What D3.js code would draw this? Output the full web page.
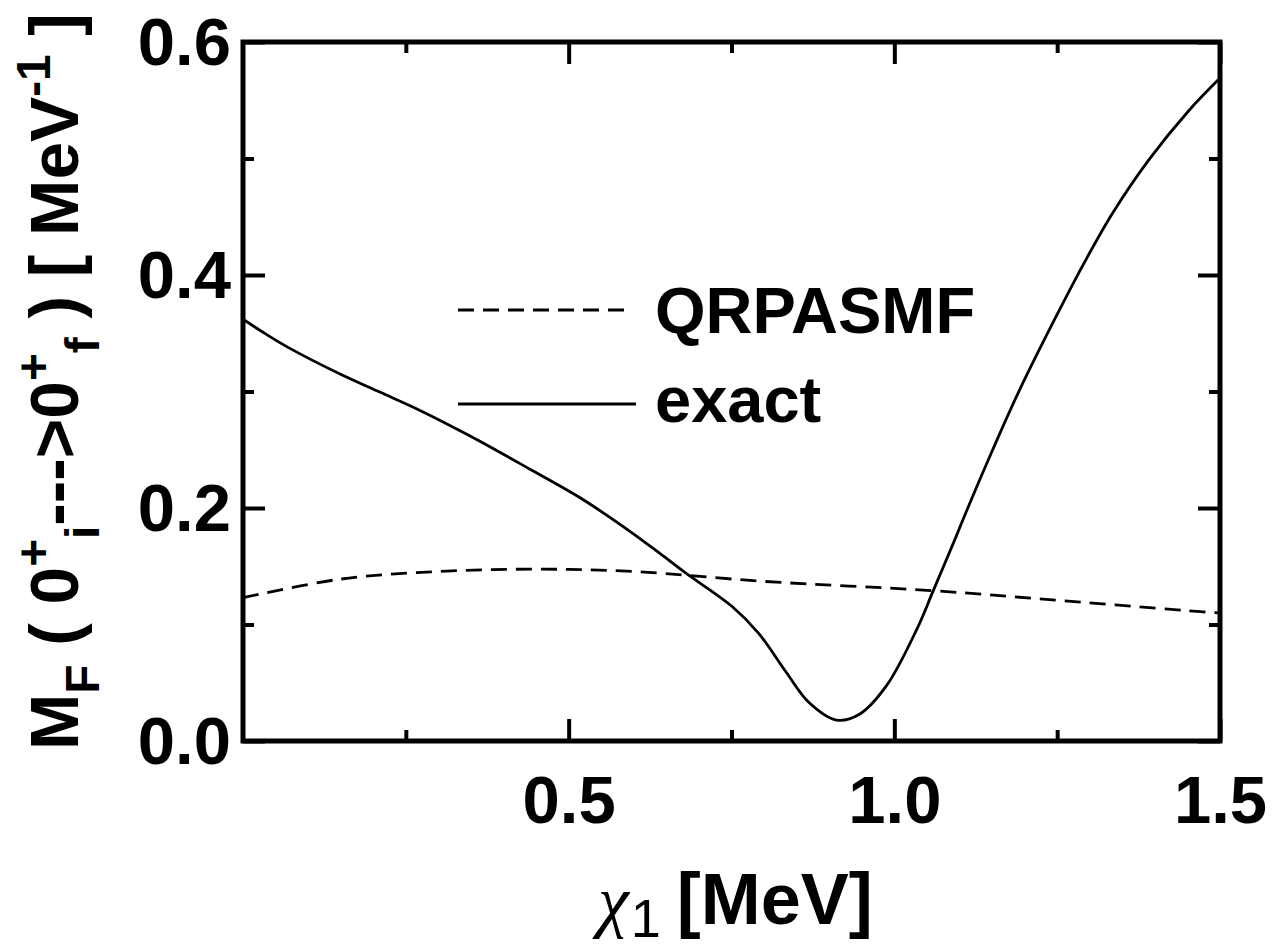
<!DOCTYPE html>
<html><head><meta charset="utf-8">
<script src="https://cdn.jsdelivr.net/npm/d3@7"></script>
<style>
html,body{margin:0;padding:0;background:#fff;}
svg{display:block;}
text{font-family:"Liberation Sans",Arial,sans-serif;}
</style></head>
<body>
<svg id="chart" width="1272" height="952"></svg>
<script>
// ---- data ----
const exactX = [0.0, 0.036, 0.072, 0.149, 0.21, 0.271, 0.348, 0.44, 0.517, 0.594, 0.64, 0.68, 0.751, 0.792, 0.834, 0.869, 0.911, 0.9465, 0.988, 1.035, 1.059, 1.0945, 1.112, 1.151, 1.192, 1.248, 1.294, 1.335, 1.391, 1.452, 1.5];
const exactY = [0.362, 0.349, 0.337, 0.315, 0.2995, 0.284, 0.262, 0.2335, 0.209, 0.180, 0.161, 0.144, 0.1154, 0.0922, 0.059, 0.033, 0.018, 0.023, 0.0475, 0.0965, 0.128, 0.175, 0.199, 0.250, 0.301, 0.364, 0.413, 0.453, 0.499, 0.541, 0.569];
const qrpaX = [0.0, 0.15, 0.3, 0.45, 0.6, 0.8, 1.06, 1.26, 1.47, 1.5];
const qrpaY = [0.123, 0.139, 0.1455, 0.1475, 0.1455, 0.137, 0.129, 0.1203, 0.111, 0.110];
const xMajor = [0.5, 1.0, 1.5];
const xMinor = [0.25, 0.75, 1.25];
const yMajor = [0.0, 0.2, 0.4, 0.6];
const yMinor = [0.1, 0.3, 0.5];
const seriesNames = ["QRPASMF", "exact"];

// ---- layout ----
const svg = d3.select("#chart");
const L = 243, R = 1220, T = 42, B = 741;
const x = d3.scaleLinear().domain([0, 1.5]).range([L, R]);
const y = d3.scaleLinear().domain([0, 0.6]).range([B, T]);
const majorLen = 22, minorLen = 11;

const g = svg.append("g");

// curves
const line = d3.line().x(d => x(d[0])).y(d => y(d[1])).curve(d3.curveCatmullRom.alpha(0.5));
g.append("path").datum(qrpaX.map((v, i) => [v, qrpaY[i]]))
  .attr("d", line).attr("fill", "none").attr("stroke", "#000")
  .attr("stroke-width", 2.8).attr("stroke-dasharray", "16,9");
g.append("path").datum(exactX.map((v, i) => [v, exactY[i]]))
  .attr("d", line).attr("fill", "none").attr("stroke", "#000")
  .attr("stroke-width", 2.8);

// axes with inward ticks
function styleAxis(sel) {
  sel.select(".domain").remove();
  sel.selectAll(".tick line").attr("stroke", "#000").attr("stroke-width", 4);
}
const fmt = d3.format(".1f");
g.append("g").attr("transform", `translate(0,${B})`)
  .call(d3.axisBottom(x).tickValues(xMajor).tickSize(-majorLen).tickPadding(34).tickFormat(fmt))
  .call(styleAxis)
  .call(s => s.selectAll(".tick text").attr("font-size", 67).attr("font-weight", "bold")
      .attr("font-family", "Liberation Sans, Arial, sans-serif").attr("fill", "#000"));
g.append("g").attr("transform", `translate(0,${B})`)
  .call(d3.axisBottom(x).tickValues(xMinor).tickSize(-minorLen).tickFormat(""))
  .call(styleAxis);
g.append("g").attr("transform", `translate(0,${T})`)
  .call(d3.axisTop(x).tickValues(xMajor).tickSize(-majorLen).tickFormat(""))
  .call(styleAxis);
g.append("g").attr("transform", `translate(0,${T})`)
  .call(d3.axisTop(x).tickValues(xMinor).tickSize(-minorLen).tickFormat(""))
  .call(styleAxis);
g.append("g").attr("transform", `translate(${L},0)`)
  .call(d3.axisLeft(y).tickValues(yMajor).tickSize(-majorLen).tickPadding(12).tickFormat(fmt))
  .call(styleAxis)
  .call(s => s.selectAll(".tick text").attr("font-size", 67).attr("font-weight", "bold")
      .attr("font-family", "Liberation Sans, Arial, sans-serif").attr("fill", "#000").attr("dy", "0.33em"));
g.append("g").attr("transform", `translate(${L},0)`)
  .call(d3.axisLeft(y).tickValues(yMinor).tickSize(-minorLen).tickFormat(""))
  .call(styleAxis);
g.append("g").attr("transform", `translate(${R},0)`)
  .call(d3.axisRight(y).tickValues(yMajor).tickSize(-majorLen).tickFormat(""))
  .call(styleAxis);
g.append("g").attr("transform", `translate(${R},0)`)
  .call(d3.axisRight(y).tickValues(yMinor).tickSize(-minorLen).tickFormat(""))
  .call(styleAxis);

// frame
g.append("rect").attr("x", L).attr("y", T).attr("width", R - L).attr("height", B - T)
  .attr("fill", "none").attr("stroke", "#000").attr("stroke-width", 5);

// legend
const leg = g.append("g");
const legItems = [
  {name: seriesNames[0], dash: "16,9", x1: 458, x2: 624, ly: 310, ty: 333},
  {name: seriesNames[1], dash: null, x1: 458, x2: 636, ly: 404, ty: 422}
];
legItems.forEach(it => {
  leg.append("line").attr("x1", it.x1).attr("x2", it.x2).attr("y1", it.ly).attr("y2", it.ly)
    .attr("stroke", "#000").attr("stroke-width", 2.8)
    .attr("stroke-dasharray", it.dash);
  leg.append("text").attr("x", 655).attr("y", it.ty).attr("font-size", 65)
    .attr("font-weight", "bold").text(it.name);
});

// x axis title
const xt = g.append("text").attr("y", 924).attr("x", 598);
xt.append("tspan").attr("font-family", "Liberation Serif, serif").attr("font-style", "italic")
  .attr("font-size", 70).text("χ");
xt.append("tspan").attr("font-size", 54).attr("dy", 13).attr("dx", 2).text("1");
xt.append("tspan").attr("font-size", 72).attr("font-weight", "bold").attr("dy", -13).attr("dx", 16).text("[MeV]");

// y axis title
const yt = g.append("text").attr("font-weight", "bold").attr("font-size", 68);
const SUB = 21, SUP = 28, small = 48;
const parts = [
  ["M", 0], ["F", SUB], [" ( 0", 0], ["+", -SUP], ["i", SUB], ["--->0", 0], ["+", -SUP], ["f", SUB],
  [" ) [ MeV", 0], ["-1", -SUP], [" ]", 0]
];
let cur = 0;
parts.forEach(([t, off]) => {
  const dy = off - cur; cur = off;
  yt.append("tspan").attr("dy", dy).attr("font-size", off === 0 ? 68 : small)
    .style("white-space", "pre").text(t);
});
yt.attr("xml:space", "preserve");
const bb = yt.node().getBBox();
const target = 737;
const s = target / bb.width;
yt.attr("transform", `translate(78,750) rotate(-90) scale(${s},1) translate(${-bb.x},0)`);
</script>
</body></html>
